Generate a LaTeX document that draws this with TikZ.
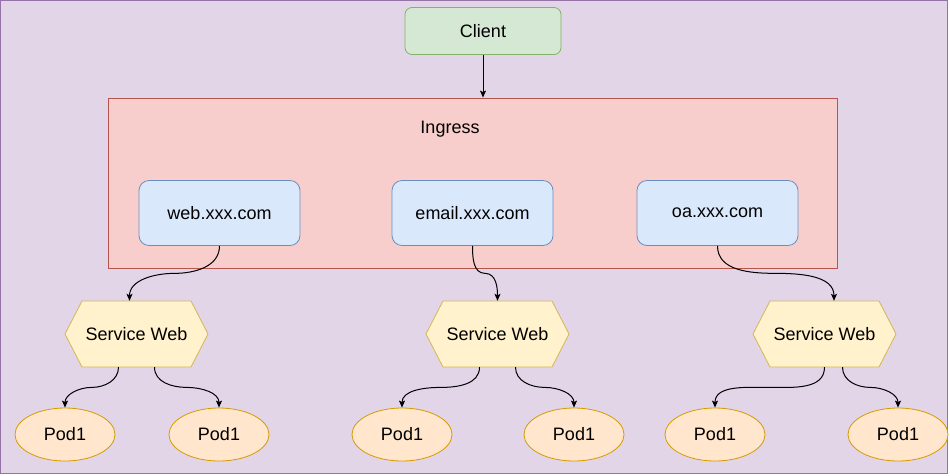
\documentclass[tikz,border=0pt]{standalone}
\usepackage{fontspec}
\setmainfont{Liberation Sans}
\usetikzlibrary{arrows.meta,calc,shapes.geometric}
\definecolor{bgfill}{HTML}{E1D5E7}
\definecolor{bgline}{HTML}{9673A6}
\definecolor{gfill}{HTML}{D5E8D4}
\definecolor{gline}{HTML}{82B366}
\definecolor{rfill}{HTML}{F8CECC}
\definecolor{rline}{HTML}{B85450}
\definecolor{bfill}{HTML}{DAE8FC}
\definecolor{bline}{HTML}{6C8EBF}
\definecolor{yfill}{HTML}{FFF2CC}
\definecolor{yline}{HTML}{D6B656}
\definecolor{ofill}{HTML}{FFE6CC}
\definecolor{oline}{HTML}{D79B00}
\tikzset{
  lbl/.style={font=\fontsize{18}{21}\selectfont, text=black},
  clientbox/.style={lbl, draw=gline, fill=gfill, rounded corners=7pt, minimum width=156pt, minimum height=47pt, line width=0.8pt, inner sep=0pt},
  ingbox/.style={draw=rline, fill=rfill, minimum width=729pt, minimum height=170pt, line width=0.8pt, inner sep=0pt},
  hostbox/.style={lbl, draw=bline, fill=bfill, rounded corners=10pt, minimum width=161pt, minimum height=65pt, line width=0.8pt, inner sep=0pt},
  svcbox/.style={lbl, minimum width=143pt, minimum height=66pt, inner sep=0pt},
  hexshape/.style={draw=yline, fill=yfill, line width=0.8pt},
  podbox/.style={lbl, ellipse, draw=oline, fill=ofill, minimum width=100pt, minimum height=53pt, line width=0.8pt, inner sep=0pt},
  conn/.style={draw=black, line width=1pt, -{Stealth[length=7pt, width=6pt, inset=1.5pt]}},
}
\newcommand\hexat[2]{%
  \path[hexshape] (#1-71.5,#2) -- (#1-54.5,#2+33) -- (#1+54.5,#2+33) -- (#1+71.5,#2)
    -- (#1+54.5,#2-33) -- (#1-54.5,#2-33) -- cycle;}
\begin{document}
\begin{tikzpicture}[x=1pt,y=1pt]
\useasboundingbox (0,0) rectangle (950,-475);
\path[draw=bgline, fill=bgfill, line width=1pt] (0.5,-0.5) rectangle (947.5,-473.5);

\node[clientbox] (client) at (483,-31) {Client};
\node[ingbox] (ing) at (472.5,-183) {};
\node[lbl] (inglbl) at (450,-129.5) {Ingress};

\node[hostbox] (d1) at (219.5,-213) {web.xxx.com};
\node[hostbox] (d2) at (472.5,-213) {email.xxx.com};
\node[hostbox] (d3) at (717.5,-213) {oa.xxx.com};

\hexat{136.5}{-334}
\hexat{497.5}{-334}
\hexat{824.5}{-334}
\node[svcbox] (s1) at (136.5,-334.5) {Service Web};
\node[svcbox] (s2) at (497.5,-334.5) {Service Web};
\node[svcbox] (s3) at (824.5,-334.5) {Service Web};

\node[podbox] (p1) at (65,-434.5) {Pod1};
\node[podbox] (p2) at (219,-434.5) {Pod1};
\node[podbox] (p3) at (402,-434.5) {Pod1};
\node[podbox] (p4) at (574,-434.5) {Pod1};
\node[podbox] (p5) at (715,-434.5) {Pod1};
\node[podbox] (p6) at (898,-434.5) {Pod1};

\draw[conn] (client.south) -- (client.south |- ing.north);

\coordinate (t1) at ($(s1.north)+(-7,0.5)$);
\coordinate (t2) at ($(s2.north)+(0,0.5)$);
\coordinate (t3) at ($(s3.north)+(9.5,0.5)$);
\draw[conn] (d1.south) to[out=-90,in=0] ($(d1.south)!.5!(t1)$) to[out=180,in=90] (t1);
\draw[conn] (d2.south) to[out=-90,in=180] ($(d2.south)!.5!(t2)$) to[out=0,in=90] (t2);
\draw[conn] (d3.south) to[out=-90,in=180] ($(d3.south)!.5!(t3)$) to[out=0,in=90] (t3);

\coordinate (a1) at ($(s1.south)+(-18,0.5)$);
\coordinate (b1) at ($(s1.south)+(18,0.5)$);
\coordinate (a2) at ($(s2.south)+(-18,0.5)$);
\coordinate (b2) at ($(s2.south)+(18,0.5)$);
\coordinate (a3) at ($(s3.south)+(0,0.5)$);
\coordinate (b3) at ($(s3.south)+(18,0.5)$);

\draw[conn] (a1) to[out=-90,in=0] ($(a1)!.5!(p1.north)$) to[out=180,in=90] (p1.north);
\draw[conn] (b1) to[out=-90,in=180] ($(b1)!.5!(p2.north)$) to[out=0,in=90] (p2.north);
\draw[conn] (a2) to[out=-90,in=0] ($(a2)!.5!(p3.north)$) to[out=180,in=90] (p3.north);
\draw[conn] (b2) to[out=-90,in=180] ($(b2)!.5!(p4.north)$) to[out=0,in=90] (p4.north);
\draw[conn] (a3) to[out=-90,in=0] ($(a3)!.5!(p5.north)$) to[out=180,in=90] (p5.north);
\draw[conn] (b3) to[out=-90,in=180] ($(b3)!.5!(p6.north)$) to[out=0,in=90] (p6.north);
\end{tikzpicture}
\end{document}
